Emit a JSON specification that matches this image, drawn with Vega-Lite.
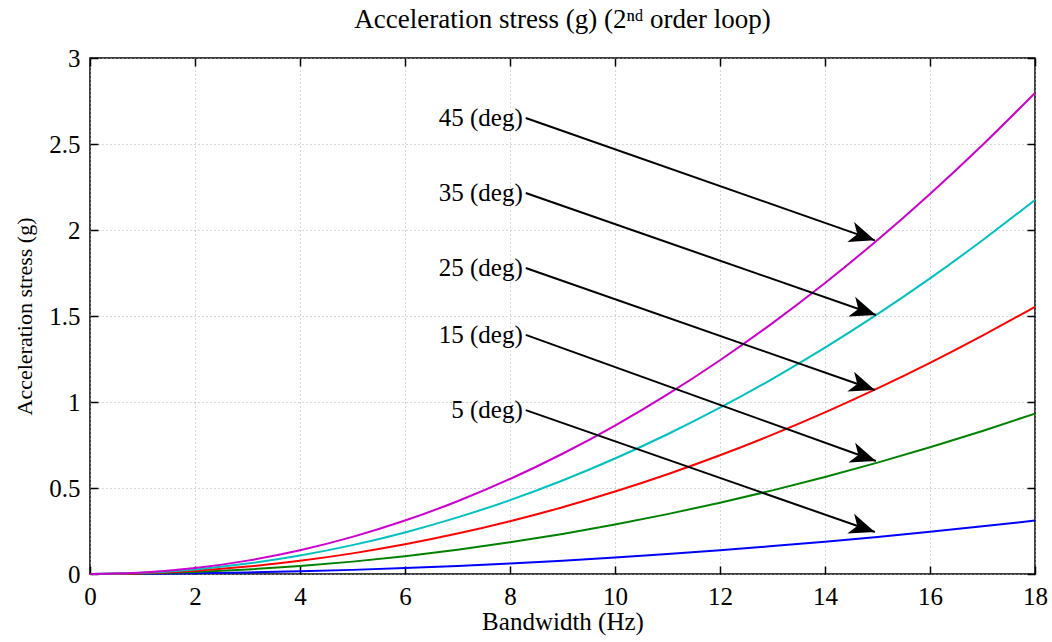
{
  "$schema": "https://vega.github.io/schema/vega-lite/v6.json",
  "width": 945,
  "height": 516,
  "autosize": "none",
  "padding": {"left": 90, "top": 58, "right": 17, "bottom": 68},
  "background": "white",
  "config": {
    "font": "Liberation Serif",
    "view": {"stroke": "black", "strokeWidth": 1.5},
    "axis": {
      "labelFont": "Liberation Serif",
      "titleFont": "Liberation Serif",
      "labelFontSize": 25,
      "titleFontSize": 25,
      "titleFontWeight": "normal",
      "labelColor": "black",
      "titleColor": "black",
      "labelFlush": false,
      "domain": false,
      "tickColor": "black",
      "tickWidth": 1.5,
      "tickSize": -8,
      "gridColor": "#b0b0b0",
      "gridDash": [1, 3],
      "gridWidth": 1
    }
  },
  "title": {
    "text": "Acceleration stress (g) (2ⁿᵈ order loop)",
    "font": "Liberation Serif",
    "fontSize": 27,
    "fontWeight": "normal",
    "color": "black",
    "offset": 12
  },
  "datasets": {
    "curves": [
      {"B": 0, "deg": "5", "g": 0}, {"B": 1, "deg": "5", "g": 0.00096}, {"B": 2, "deg": "5", "g": 0.00384}, {"B": 3, "deg": "5", "g": 0.00863}, {"B": 4, "deg": "5", "g": 0.01535}, {"B": 5, "deg": "5", "g": 0.02398}, {"B": 6, "deg": "5", "g": 0.03453}, {"B": 7, "deg": "5", "g": 0.047}, {"B": 8, "deg": "5", "g": 0.06138}, {"B": 9, "deg": "5", "g": 0.07769}, {"B": 10, "deg": "5", "g": 0.09591}, {"B": 11, "deg": "5", "g": 0.11605}, {"B": 12, "deg": "5", "g": 0.13811}, {"B": 13, "deg": "5", "g": 0.16209}, {"B": 14, "deg": "5", "g": 0.18798}, {"B": 15, "deg": "5", "g": 0.2158}, {"B": 16, "deg": "5", "g": 0.24553}, {"B": 17, "deg": "5", "g": 0.27718}, {"B": 18, "deg": "5", "g": 0.31075},
      {"B": 0, "deg": "15", "g": 0}, {"B": 1, "deg": "15", "g": 0.00288}, {"B": 2, "deg": "15", "g": 0.01151}, {"B": 3, "deg": "15", "g": 0.0259}, {"B": 4, "deg": "15", "g": 0.04604}, {"B": 5, "deg": "15", "g": 0.07193}, {"B": 6, "deg": "15", "g": 0.10358}, {"B": 7, "deg": "15", "g": 0.14099}, {"B": 8, "deg": "15", "g": 0.18415}, {"B": 9, "deg": "15", "g": 0.23306}, {"B": 10, "deg": "15", "g": 0.28773}, {"B": 11, "deg": "15", "g": 0.34815}, {"B": 12, "deg": "15", "g": 0.41433}, {"B": 13, "deg": "15", "g": 0.48626}, {"B": 14, "deg": "15", "g": 0.56395}, {"B": 15, "deg": "15", "g": 0.64739}, {"B": 16, "deg": "15", "g": 0.73659}, {"B": 17, "deg": "15", "g": 0.83154}, {"B": 18, "deg": "15", "g": 0.93225},
      {"B": 0, "deg": "25", "g": 0}, {"B": 1, "deg": "25", "g": 0.0048}, {"B": 2, "deg": "25", "g": 0.01918}, {"B": 3, "deg": "25", "g": 0.04316}, {"B": 4, "deg": "25", "g": 0.07673}, {"B": 5, "deg": "25", "g": 0.11989}, {"B": 6, "deg": "25", "g": 0.17264}, {"B": 7, "deg": "25", "g": 0.23498}, {"B": 8, "deg": "25", "g": 0.30691}, {"B": 9, "deg": "25", "g": 0.38844}, {"B": 10, "deg": "25", "g": 0.47955}, {"B": 11, "deg": "25", "g": 0.58026}, {"B": 12, "deg": "25", "g": 0.69055}, {"B": 13, "deg": "25", "g": 0.81044}, {"B": 14, "deg": "25", "g": 0.93992}, {"B": 15, "deg": "25", "g": 1.07899}, {"B": 16, "deg": "25", "g": 1.22765}, {"B": 17, "deg": "25", "g": 1.3859}, {"B": 18, "deg": "25", "g": 1.55374},
      {"B": 0, "deg": "35", "g": 0}, {"B": 1, "deg": "35", "g": 0.00671}, {"B": 2, "deg": "35", "g": 0.02685}, {"B": 3, "deg": "35", "g": 0.06042}, {"B": 4, "deg": "35", "g": 0.10742}, {"B": 5, "deg": "35", "g": 0.16784}, {"B": 6, "deg": "35", "g": 0.24169}, {"B": 7, "deg": "35", "g": 0.32897}, {"B": 8, "deg": "35", "g": 0.42968}, {"B": 9, "deg": "35", "g": 0.54381}, {"B": 10, "deg": "35", "g": 0.67137}, {"B": 11, "deg": "35", "g": 0.81236}, {"B": 12, "deg": "35", "g": 0.96677}, {"B": 13, "deg": "35", "g": 1.13462}, {"B": 14, "deg": "35", "g": 1.31589}, {"B": 15, "deg": "35", "g": 1.51058}, {"B": 16, "deg": "35", "g": 1.71871}, {"B": 17, "deg": "35", "g": 1.94026}, {"B": 18, "deg": "35", "g": 2.17524},
      {"B": 0, "deg": "45", "g": 0}, {"B": 1, "deg": "45", "g": 0.00863}, {"B": 2, "deg": "45", "g": 0.03453}, {"B": 3, "deg": "45", "g": 0.07769}, {"B": 4, "deg": "45", "g": 0.13811}, {"B": 5, "deg": "45", "g": 0.2158}, {"B": 6, "deg": "45", "g": 0.31075}, {"B": 7, "deg": "45", "g": 0.42296}, {"B": 8, "deg": "45", "g": 0.55244}, {"B": 9, "deg": "45", "g": 0.69918}, {"B": 10, "deg": "45", "g": 0.86319}, {"B": 11, "deg": "45", "g": 1.04446}, {"B": 12, "deg": "45", "g": 1.24299}, {"B": 13, "deg": "45", "g": 1.45879}, {"B": 14, "deg": "45", "g": 1.69185}, {"B": 15, "deg": "45", "g": 1.94218}, {"B": 16, "deg": "45", "g": 2.20977}, {"B": 17, "deg": "45", "g": 2.49462}, {"B": 18, "deg": "45", "g": 2.79674}
    ],
    "notes": [
      {"label": "45 (deg)", "x0": 8.3, "y0": 2.651, "x1": 14.95, "y1": 1.94},
      {"label": "35 (deg)", "x0": 8.3, "y0": 2.215, "x1": 14.97, "y1": 1.506},
      {"label": "25 (deg)", "x0": 8.3, "y0": 1.779, "x1": 14.95, "y1": 1.07},
      {"label": "15 (deg)", "x0": 8.3, "y0": 1.39, "x1": 14.97, "y1": 0.657},
      {"label": "5 (deg)", "x0": 8.3, "y0": 0.953, "x1": 14.95, "y1": 0.244}
    ]
  },
  "layer": [
    {
      "data": {"name": "curves"},
      "mark": {"type": "line", "strokeWidth": 2, "interpolate": "monotone"},
      "encoding": {
        "x": {
          "field": "B", "type": "quantitative",
          "scale": {"domain": [0, 18], "nice": false},
          "axis": {"title": "Bandwidth (Hz)", "values": [0, 2, 4, 6, 8, 10, 12, 14, 16, 18], "labelPadding": 18, "titlePadding": 0, "orient": "bottom"}
        },
        "y": {
          "field": "g", "type": "quantitative",
          "scale": {"domain": [0, 3], "nice": false},
          "axis": {"title": "Acceleration stress (g)", "titleFontSize": 22, "values": [0, 0.5, 1, 1.5, 2, 2.5, 3], "format": "~g", "labelPadding": 18, "titlePadding": 12, "orient": "left"}
        },
        "color": {
          "field": "deg", "type": "nominal",
          "scale": {"domain": ["5", "15", "25", "35", "45"], "range": ["#0000ff", "#008000", "#ff0000", "#00c0c0", "#cc00cc"]},
          "legend": null
        }
      }
    },
    {
      "data": {"name": "notes"},
      "mark": {"type": "rule", "color": "black", "strokeWidth": 2},
      "encoding": {
        "x": {"field": "x0", "type": "quantitative", "axis": null},
        "y": {"field": "y0", "type": "quantitative", "axis": null},
        "x2": {"field": "x1"},
        "y2": {"field": "y1"}
      }
    },
    {
      "data": {"name": "notes"},
      "mark": {
        "type": "point",
        "shape": "M0,0 L-2.2,-0.9 L-1.6,0 L-2.2,0.9 Z",
        "size": 540,
        "filled": true,
        "color": "black",
        "opacity": 1,
        "angle": 19
      },
      "encoding": {
        "x": {"field": "x1", "type": "quantitative", "axis": null},
        "y": {"field": "y1", "type": "quantitative", "axis": null}
      }
    },
    {
      "data": {"name": "notes"},
      "mark": {"type": "text", "font": "Liberation Serif", "fontSize": 25, "align": "right", "baseline": "middle", "dx": -3, "color": "black"},
      "encoding": {
        "x": {"field": "x0", "type": "quantitative", "axis": {"orient": "top", "labels": false, "grid": false, "title": null, "values": [0, 2, 4, 6, 8, 10, 12, 14, 16, 18]}},
        "y": {"field": "y0", "type": "quantitative", "axis": {"orient": "right", "labels": false, "grid": false, "title": null, "values": [0, 0.5, 1, 1.5, 2, 2.5, 3]}},
        "text": {"field": "label"}
      }
    }
  ],
  "resolve": {"axis": {"x": "independent", "y": "independent"}}
}
